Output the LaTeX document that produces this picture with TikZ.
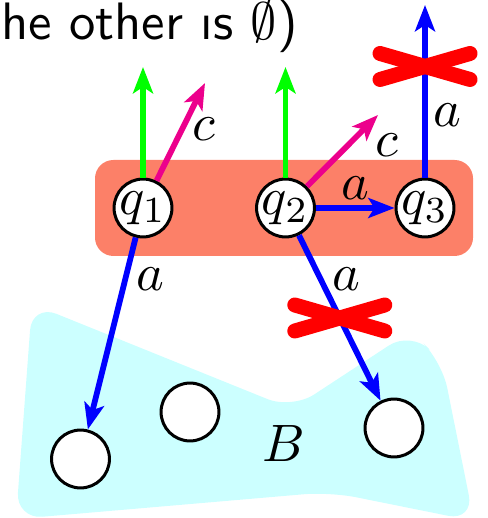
\documentclass[tikz,border=0pt]{standalone}
\usepackage{amssymb}
\usetikzlibrary{arrows.meta,calc}
\definecolor{st-blue}{RGB}{0,0,255}
\definecolor{st-green}{RGB}{0,255,0}
\definecolor{st-pink}{RGB}{236,0,140}
\definecolor{st-red}{RGB}{255,0,0}
\definecolor{st-set}{RGB}{252,128,104}
\definecolor{st-bset}{RGB}{204,255,255}

\tikzset{
  stnode/.style={draw, circle, fill=white, line width=0.57pt, minimum size=11pt, inner sep=0pt},
  lbl/.style={inner sep=0pt},
  trans/.style={->, line width=1.1pt},
  xmark/.style={st-red, line width=2.85pt, line cap=round},
}

\begin{document}
\begin{tikzpicture}[x=0.19pt, y=-0.19pt, >={Stealth[length=5pt,width=3.8pt,inset=1.2pt]}]
    \useasboundingbox (0,0) rectangle (487,518);
    % target set B and the current set of states
    \fill[st-bset, rounded corners=5pt] (32,304) -- (292,409) -- (411,331) -- (442,362) -- (474,521) -- (330,492) -- (16,519) -- cycle;
    \fill[st-set, rounded corners=3.5pt] (95,160) rectangle (473,256);

    \node[lbl, anchor=base west, font=\sffamily] (note) at (0,40) {he other \i s $\emptyset$)};

    \node[stnode] (q1) at (143,208) {$q_1$};
    \node[stnode] (q2) at (285.5,208) {$q_2$};
    \node[stnode] (q3) at (425,208) {$q_3$};
    \node[stnode] (b1) at (80.5,459) {};
    \node[stnode] (b2) at (190,412) {};
    \node[stnode] (b3) at (394,428) {};
    \node[lbl] (bname) at (284,444) {$B$};

    \coordinate (g1) at (143,67);
    \coordinate (g2) at (285.5,67);
    \coordinate (m1) at (205,83);
    \coordinate (m2) at (378,115);
    \coordinate (t3) at (425,5);

    \draw[trans, st-green] (q1) -- (g1);
    \draw[trans, st-green] (q2) -- (g2);
    \draw[trans, st-pink] (q1) -- (m1);
    \draw[trans, st-pink] (q2) -- (m2);
    \draw[trans, st-blue] (q1) -- (b1);
    \draw[trans, st-blue] (q2) -- (b3);
    \draw[trans, st-blue] (q2) -- (q3);
    \draw[trans, st-blue] (q3) -- (t3);

    \node[lbl] (c1) at (204,129.5) {$c$};
    \node[lbl] (c2) at (386.5,145) {$c$};
    \node[lbl] (a1) at (150,279.5) {$a$};
    \node[lbl] (a2) at (346,279.5) {$a$};
    \node[lbl] (a3) at (355,188.5) {$a$};
    \node[lbl] (a4) at (447.5,115) {$a$};

    % crossed out moves
    \coordinate (x1) at (425,66.5);
    \coordinate (x2) at ($(q2)!0.5!(b3)$);
    \draw[xmark] ($(x1)+(-45,-13)$) -- ($(x1)+(45,13)$);
    \draw[xmark] ($(x1)+(-45,13)$) -- ($(x1)+(45,-13)$);
    \draw[xmark] ($(x2)+(-45,-13)$) -- ($(x2)+(45,13)$);
    \draw[xmark] ($(x2)+(-45,13)$) -- ($(x2)+(45,-13)$);
\end{tikzpicture}
\end{document}
